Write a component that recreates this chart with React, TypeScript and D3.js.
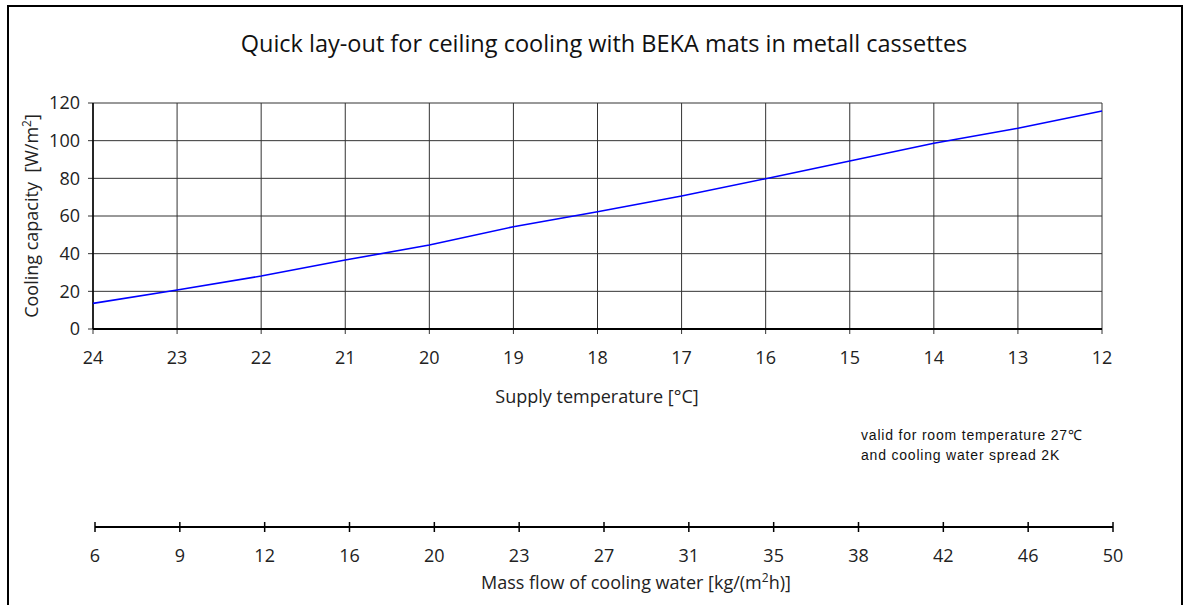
import React from "react";
import * as d3 from "d3";

// supply temperature [°C] and cooling capacity [W/m²]
const supplyTemps = [24, 23, 22, 21, 20, 19, 18, 17, 16, 15, 14, 13, 12];
const capacity = [13.6, 20.7, 28.1, 36.6, 44.6, 54.3, 62.3, 70.6, 79.8, 89.2, 98.6, 106.6, 115.8];
const yTicks = [0, 20, 40, 60, 80, 100, 120];
// second scale under the chart
const massFlowLabels = ["6", "9", "12", "16", "20", "23", "27", "31", "35", "38", "42", "46", "50"];

const W = 1186;
const H = 605;
const font = "'Open Sans', 'DejaVu Sans', sans-serif";
const noteFont = "'Liberation Sans', Arial, sans-serif";

const App = () => {
  const x = d3.scaleLinear().domain([24, 12]).range([93, 1102]);
  const y = d3.scaleLinear().domain([0, 120]).range([329, 103]);
  const xFlow = d3.scalePoint().domain(massFlowLabels).range([95, 1113]);

  const pts = supplyTemps.map((t, i) => [t, capacity[i]] as [number, number]);
  const path = d3
    .line<[number, number]>()
    .x((d) => x(d[0]))
    .y((d) => y(d[1]))(pts);

  const flowY = 527;

  return (
    <svg
      width={W}
      height={H}
      style={{ position: "absolute", left: 0, top: 0, background: "#fff" }}
      fontFamily={font}
    >
      {/* outer frame */}
      <rect x={8} y={6} width={1174} height={640} fill="none" stroke="#000" strokeWidth={2} />

      <text x={604} y={52} textAnchor="middle" fontSize={23.5} fill="#111">
        Quick lay-out for ceiling cooling with BEKA mats in metall cassettes
      </text>

      {/* grid */}
      {yTicks.map((v) => (
        <line key={"gy" + v} x1={x(24) - 5} x2={x(12)} y1={y(v)} y2={y(v)} stroke="#333" strokeWidth={1} />
      ))}
      {supplyTemps.map((t) => (
        <line key={"gx" + t} x1={x(t)} x2={x(t)} y1={y(120)} y2={y(0) + 5} stroke="#333" strokeWidth={1} />
      ))}
      <line x1={x(24)} x2={x(24)} y1={y(120)} y2={y(0)} stroke="#000" strokeWidth={1.5} />
      <line x1={x(24)} x2={x(12)} y1={y(0)} y2={y(0)} stroke="#000" strokeWidth={2} />

      {yTicks.map((v) => (
        <text key={"yl" + v} x={80} y={y(v)} dy="0.35em" textAnchor="end" fontSize={18} fill="#222">
          {v}
        </text>
      ))}
      {supplyTemps.map((t) => (
        <text key={"xl" + t} x={x(t)} y={358} dy="0.35em" textAnchor="middle" fontSize={18} fill="#222">
          {t}
        </text>
      ))}

      <text
        transform={`translate(38, ${(y(0) + y(120)) / 2}) rotate(-90)`}
        textAnchor="middle"
        fontSize={18}
        fill="#222"
        xmlSpace="preserve"
      >
        Cooling capacity  [W/m<tspan dy={-7} fontSize={12}>2</tspan>
        <tspan dy={7}>]</tspan>
      </text>

      <text x={597} y={397} dy="0.35em" textAnchor="middle" fontSize={18} fill="#222">
        Supply temperature [°C]
      </text>

      <path d={path ?? ""} fill="none" stroke="#0000ff" strokeWidth={1.6} />

      {/* note */}
      <text x={861} y={440} fontSize={14} letterSpacing={0.8} fontFamily={noteFont} fill="#111">
        valid for room temperature 27℃
      </text>
      <text x={861} y={460} fontSize={14} letterSpacing={0.8} fontFamily={noteFont} fill="#111">
        and cooling water spread 2K
      </text>

      {/* mass flow scale */}
      <line x1={xFlow("6")} x2={xFlow("50")} y1={flowY} y2={flowY} stroke="#000" strokeWidth={2} />
      {massFlowLabels.map((m) => (
        <g key={"mf" + m}>
          <line x1={xFlow(m)} x2={xFlow(m)} y1={flowY - 5} y2={flowY + 5} stroke="#000" strokeWidth={1.5} />
          <text x={xFlow(m)} y={556} dy="0.35em" textAnchor="middle" fontSize={18} fill="#222">
            {m}
          </text>
        </g>
      ))}
      <text x={636} y={583} dy="0.35em" textAnchor="middle" fontSize={18} fill="#222">
        Mass flow of cooling water [kg/(m<tspan dy={-7} fontSize={12}>2</tspan>
        <tspan dy={7}>h)]</tspan>
      </text>
    </svg>
  );
};

export default App;
